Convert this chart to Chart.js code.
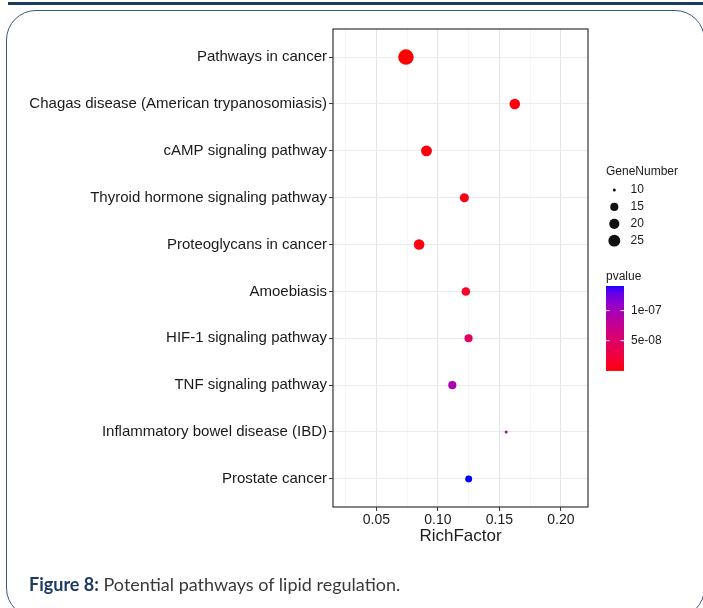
<!DOCTYPE html>
<html>
<head>
<meta charset="utf-8">
<script src="https://cdn.jsdelivr.net/npm/chart.js@4.4.1/dist/chart.umd.min.js"></script>
<style>
  html, body { margin:0; padding:0; width:703px; height:608px; overflow:hidden; background:#fff; }
  #topbar { position:absolute; left:8px; top:2px; width:695px; height:3px; background:#1b3a62; }
  #frame { position:absolute; left:6px; top:10px; width:698.5px; height:608px; border:1.5px solid #3a5680; border-radius:30px; box-sizing:border-box; }
  #chart { position:absolute; left:0; top:0; }
  #caption { position:absolute; left:29px; top:573px; font-family:Lato, "Open Sans", sans-serif; font-size:18px; color:#3a3a3a; white-space:nowrap; }
  #caption b { color:#1d3b66; font-weight:700; }
</style>
</head>
<body>
<div id="topbar"></div>
<div id="frame"></div>
<canvas id="chart" width="703" height="608"></canvas>
<div id="caption"><b>Figure 8:</b> Potential pathways of lipid regulation.</div>
<script>
// ---------------- data ----------------
const categories = [
  "Pathways in cancer",
  "Chagas disease (American trypanosomiasis)",
  "cAMP signaling pathway",
  "Thyroid hormone signaling pathway",
  "Proteoglycans in cancer",
  "Amoebiasis",
  "HIF-1 signaling pathway",
  "TNF signaling pathway",
  "Inflammatory bowel disease (IBD)",
  "Prostate cancer"
];
const richFactor = [0.074, 0.1625, 0.0907, 0.1215, 0.0847, 0.1227, 0.1249, 0.1117, 0.1555, 0.125];
const geneNumber = [40, 21, 22, 17, 21, 16, 15, 15, 10, 13];
const pValue = [1e-12, 2e-9, 3e-9, 6e-9, 4e-9, 1.2e-8, 4.5e-8, 9.5e-8, 9.8e-8, 1.41e-7];
const xTickValues = [0.05, 0.10, 0.15, 0.20];
const xTickLabels = ["0.05", "0.10", "0.15", "0.20"];
const sizeLegendValues = [10, 15, 20, 25];
const sizeLegendLabels = ["10", "15", "20", "25"];
const colorbarTickValues = [1e-7, 5e-8];
const colorbarTickLabels = ["1e-07", "5e-08"];

// ---------------- scales (style helpers) ----------------
const nMin = Math.min(...geneNumber), nMax = Math.max(...geneNumber);
const pMin = Math.min(...pValue), pMax = Math.max(...pValue);
const D_MIN = 3, D_MAX = 15.5;
function radiusFor(n) {
  const t = Math.max(0, (n - nMin) / (nMax - nMin));
  return (D_MIN + (D_MAX - D_MIN) * Math.sqrt(t)) / 2;
}
function toLin(c){ c/=255; return c<=0.04045? c/12.92 : Math.pow((c+0.055)/1.055,2.4); }
function fromLin(c){ const v = c<=0.0031308? 12.92*c : 1.055*Math.pow(c,1/2.4)-0.055; return Math.round(Math.min(1,Math.max(0,v))*255); }
const WX=0.95047, WY=1, WZ=1.08883;
function rgbToLab(rgb){
  const R=toLin(rgb[0]),G=toLin(rgb[1]),B=toLin(rgb[2]);
  const X=(0.4124*R+0.3576*G+0.1805*B)/WX, Y=(0.2126*R+0.7152*G+0.0722*B)/WY, Z=(0.0193*R+0.1192*G+0.9505*B)/WZ;
  const f=t=> t>0.008856? Math.cbrt(t) : 7.787*t+16/116;
  const fx=f(X),fy=f(Y),fz=f(Z);
  return [116*fy-16, 500*(fx-fy), 200*(fy-fz)];
}
function labToRgb(lab){
  const fy=(lab[0]+16)/116, fx=fy+lab[1]/500, fz=fy-lab[2]/200;
  const inv=t=> t*t*t>0.008856? t*t*t : (t-16/116)/7.787;
  const X=inv(fx)*WX, Y=inv(fy)*WY, Z=inv(fz)*WZ;
  const R= 3.2406*X-1.5372*Y-0.4986*Z, G=-0.9689*X+1.8758*Y+0.0415*Z, B=0.0557*X-0.2040*Y+1.0570*Z;
  return [fromLin(R),fromLin(G),fromLin(B)];
}
const LAB_LOW = rgbToLab([255,0,0]), LAB_HIGH = rgbToLab([0,0,255]);
function colorFor(p){
  const t = Math.min(1, Math.max(0, (p - pMin) / (pMax - pMin)));
  const lab = [0,1,2].map(i => LAB_LOW[i] + (LAB_HIGH[i]-LAB_LOW[i])*t);
  const c = labToRgb(lab);
  return `rgb(${c[0]},${c[1]},${c[2]})`;
}
function isMajor(v){ return xTickValues.some(m => Math.abs(m - v) < 1e-9); }

const FONT = '"Liberation Sans", Arial, Helvetica, sans-serif';
const TEXT = '#1a1a1a';

// ---------------- plugins ----------------
const panelAndLegend = {
  id: 'panelAndLegend',
  afterDraw(chart) {
    const ctx = chart.ctx, a = chart.chartArea;
    ctx.save();
    // panel border
    ctx.strokeStyle = '#333';
    ctx.lineWidth = 1.2;
    ctx.strokeRect(a.left, a.top, a.right - a.left, a.bottom - a.top);

    // size legend
    const lx = 606;
    ctx.fillStyle = TEXT;
    ctx.font = '12px ' + FONT;
    ctx.textBaseline = 'middle';
    ctx.textAlign = 'left';
    ctx.fillText('GeneNumber', lx, 172);
    sizeLegendValues.forEach((v, i) => {
      const cy = 190 + i * 16.9;
      ctx.beginPath();
      ctx.fillStyle = '#111';
      ctx.arc(614.3, cy, radiusFor(v), 0, Math.PI * 2);
      ctx.fill();
      ctx.fillStyle = TEXT;
      ctx.fillText(sizeLegendLabels[i], 630.5, cy);
    });

    // colour bar
    ctx.fillText('pvalue', lx, 277);
    const bx = 606, bw = 18, bTop = 286, bBot = 370.7;
    for (let y = bTop; y < bBot; y += 1) {
      const t = (bBot - (y + 0.5)) / (bBot - bTop);
      ctx.fillStyle = colorFor(pMin + t * (pMax - pMin));
      ctx.fillRect(bx, y, bw, Math.min(1, bBot - y) + 0.2);
    }
    ctx.strokeStyle = '#fff';
    ctx.lineWidth = 1;
    colorbarTickValues.forEach((v, i) => {
      const y = bBot - (v - pMin) / (pMax - pMin) * (bBot - bTop);
      ctx.beginPath();
      ctx.moveTo(bx, y); ctx.lineTo(bx + 3.6, y);
      ctx.moveTo(bx + bw - 3.6, y); ctx.lineTo(bx + bw, y);
      ctx.stroke();
      ctx.fillStyle = TEXT;
      ctx.fillText(colorbarTickLabels[i], 631, y);
    });
    ctx.restore();
  }
};

// ---------------- chart ----------------
const points = categories.map((c, i) => ({ x: richFactor[i], y: i }));

new Chart(document.getElementById('chart'), {
  type: 'scatter',
  data: {
    datasets: [{
      data: points,
      pointRadius: ctx => radiusFor(geneNumber[ctx.dataIndex]),
      pointHoverRadius: ctx => radiusFor(geneNumber[ctx.dataIndex]),
      pointBackgroundColor: ctx => colorFor(pValue[ctx.dataIndex]),
      pointBorderWidth: 0,
      pointBorderColor: 'rgba(0,0,0,0)'
    }]
  },
  options: {
    responsive: false,
    animation: false,
    devicePixelRatio: 1,
    events: [],
    layout: { padding: { left: 0, top: 29, right: 115, bottom: 61 } },
    plugins: { legend: { display: false }, tooltip: { enabled: false } },
    scales: {
      x: {
        type: 'linear',
        min: 0.0147, max: 0.222,
        afterBuildTicks: scale => {
          const vals = [];
          for (let i = 0; i < xTickValues.length; i++) {
            const step = i > 0 ? xTickValues[i] - xTickValues[i-1] : xTickValues[1] - xTickValues[0];
            vals.push(xTickValues[i] - step / 2);
            vals.push(xTickValues[i]);
          }
          const last = xTickValues[xTickValues.length-1] + (xTickValues[1]-xTickValues[0]) / 2;
          vals.push(last);
          scale.ticks = vals.filter(v => v >= scale.min && v <= scale.max).map(v => ({ value: v }));
        },
        afterFit: scale => { scale.height = 40; },
        ticks: {
          autoSkip: false, maxRotation: 0, padding: 1,
          color: TEXT, font: { family: FONT, size: 14 },
          callback: v => { const k = xTickValues.findIndex(m => Math.abs(m - v) < 1e-9); return k >= 0 ? xTickLabels[k] : ''; }
        },
        grid: {
          drawTicks: true, tickLength: 4,
          color: ctx => isMajor(ctx.tick.value) ? '#e4e4e4' : '#f1f1f1',
          lineWidth: ctx => isMajor(ctx.tick.value) ? 1.1 : 0.7,
          tickColor: ctx => isMajor(ctx.tick.value) ? '#333' : 'rgba(0,0,0,0)',
          tickWidth: 1
        },
        border: { display: false },
        title: { display: true, text: 'RichFactor', color: TEXT, font: { family: FONT, size: 17 }, padding: 0 }
      },
      y: {
        type: 'linear',
        reverse: true,
        min: -0.6, max: categories.length - 0.4,
        afterBuildTicks: scale => { scale.ticks = categories.map((c, i) => ({ value: i })); },
        afterFit: scale => { scale.width = 333; },
        ticks: {
          autoSkip: false, padding: 2,
          color: TEXT, font: { family: FONT, size: 15 },
          callback: v => categories[v] ?? ''
        },
        grid: { drawTicks: true, tickLength: 4, color: '#ebebeb', lineWidth: 1.1, tickColor: '#333', tickWidth: 1 },
        border: { display: false }
      }
    }
  },
  plugins: [panelAndLegend]
});
</script>
</body>
</html>
